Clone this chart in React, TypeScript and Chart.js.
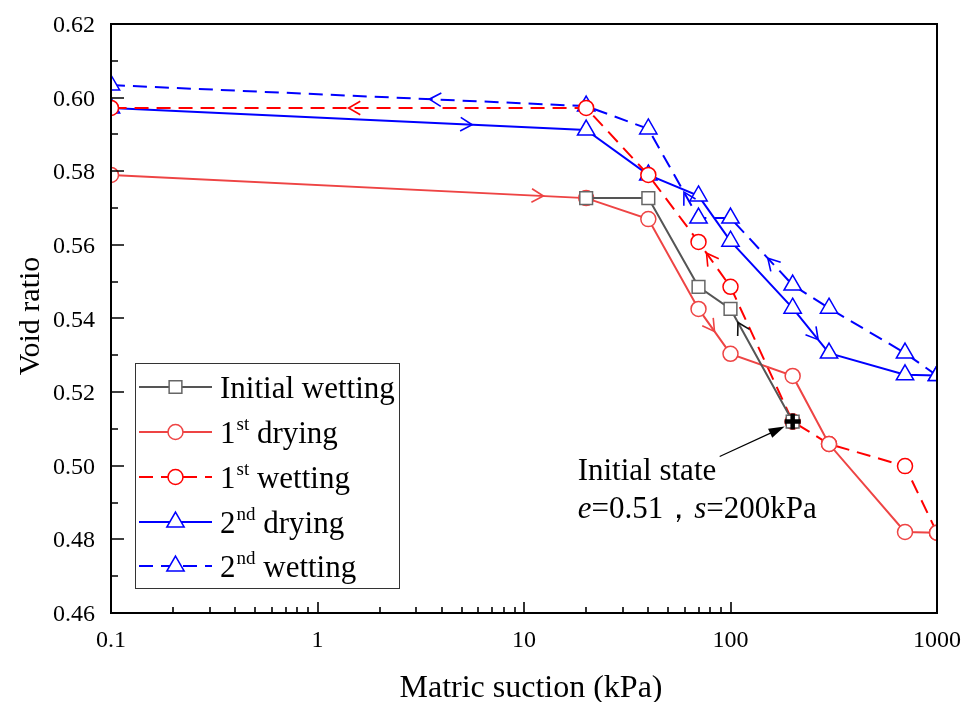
import React, { useEffect, useRef } from 'react';
import { Chart, registerables } from 'chart.js';

Chart.register(...registerables);

// ---------- data ----------
const initWetX = [200, 100, 70, 40, 20];
const initWetY = [0.512, 0.5426, 0.5486, 0.5727, 0.5727];

const dry1X = [0.1, 20, 40, 70, 100, 200, 300, 700, 1000];
const dry1Y = [0.579, 0.5727, 0.567, 0.5426, 0.5304, 0.5244, 0.5059, 0.482, 0.4818];

const wet1X = [1000, 700, 300, 200, 100, 70, 40, 20, 0.1];
const wet1Y = [0.4818, 0.4999, 0.5059, 0.512, 0.5486, 0.5608, 0.579, 0.5972, 0.5972];

const dry2X = [0.1, 20, 40, 70, 100, 200, 300, 700, 1000];
const dry2Y = [0.5972, 0.5912, 0.579, 0.5733, 0.561, 0.5428, 0.5306, 0.5247, 0.5245];

const wet2X = [1000, 700, 300, 200, 100, 70, 40, 20, 0.1];
const wet2Y = [0.5245, 0.5306, 0.5428, 0.5491, 0.5673, 0.5673, 0.5915, 0.5977, 0.6034];

// direction arrows: segment index and fraction along it
const arrowsInit = [{ seg: 0, t: 0.88 }];
const arrowsDry1 = [{ seg: 0, t: 0.91 }, { seg: 3, t: 0.5 }];
const arrowsWet1 = [{ seg: 4, t: 0.75 }, { seg: 7, t: 0.5 }];
const arrowsDry2 = [{ seg: 0, t: 0.76 }, { seg: 5, t: 0.7 }];
const arrowsWet2 = [{ seg: 3, t: 0.4 }, { seg: 5, t: 0.29 }, { seg: 7, t: 0.33 }];

const initialState = { x: 200, y: 0.512 };

const xMajorTicks = [0.1, 1, 10, 100, 1000];
const xTickLabels = ['0.1', '1', '10', '100', '1000'];
const xMinorTicks = [2, 3, 4, 5, 6, 7, 8, 9, 20, 30, 40, 50, 60, 70, 80, 90, 200, 300, 400, 500, 600, 700, 800, 900]
  .map(v => v / 10);
const yMajorTicks = [0.46, 0.48, 0.5, 0.52, 0.54, 0.56, 0.58, 0.6, 0.62];
const yTickLabels = ['0.46', '0.48', '0.50', '0.52', '0.54', '0.56', '0.58', '0.60', '0.62'];
const yMinorTicks = [0.47, 0.49, 0.51, 0.53, 0.55, 0.57, 0.59, 0.61];

const seriesBase = ['Initial wetting', '1', '1', '2', '2'];
const seriesSup = ['', 'st', 'st', 'nd', 'nd'];
const seriesRest = ['', ' drying', ' wetting', ' drying', ' wetting'];

const xTitle = 'Matric suction (kPa)';
const yTitle = 'Void ratio';

const SERIF = '"Liberation Serif", "Times New Roman", serif';

const GRAY = '#555555';
const RED1 = '#EE4444';
const RED2 = '#FF0000';
const BLUE = '#0000FF';

const zip = (xs: number[], ys: number[]) => xs.map((x, i) => ({ x, y: ys[i] }));

const styles = [
  { color: GRAY, pcolor: '#666666', dash: [] as number[], point: 'rect', r: 9 },
  { color: RED1, pcolor: RED1, dash: [] as number[], point: 'circle', r: 7.5 },
  { color: RED2, pcolor: RED2, dash: [14, 8], point: 'circle', r: 7.5 },
  { color: BLUE, pcolor: BLUE, dash: [] as number[], point: 'triangle', r: 10 },
  { color: BLUE, pcolor: BLUE, dash: [14, 8], point: 'triangle', r: 10 },
];

function drawMarker(ctx: CanvasRenderingContext2D, style: string, x: number, y: number, r: number) {
  ctx.beginPath();
  if (style === 'circle') {
    ctx.arc(x, y, r, 0, Math.PI * 2);
  } else if (style === 'rect') {
    const s = r * Math.SQRT1_2;
    ctx.rect(x - s, y - s, 2 * s, 2 * s);
  } else {
    for (let k = 0; k < 3; k++) {
      const a = (k * 2 * Math.PI) / 3;
      const px = x + Math.sin(a) * r;
      const py = y - Math.cos(a) * r;
      if (k === 0) ctx.moveTo(px, py); else ctx.lineTo(px, py);
    }
    ctx.closePath();
  }
  ctx.fillStyle = '#fff';
  ctx.fill();
  ctx.stroke();
}

const decorPlugin = {
  id: 'decor',
  afterDatasetsDraw(chart: any) {
    const ctx: CanvasRenderingContext2D = chart.ctx;
    const { left, right, top, bottom } = chart.chartArea;
    const xs = chart.scales.x;
    const ys = chart.scales.y;
    ctx.save();

    // direction chevrons
    chart.data.datasets.forEach((ds: any, i: number) => {
      const pts = chart.getDatasetMeta(i).data;
      (ds.arrows || []).forEach((a: any) => {
        const p0 = pts[a.seg];
        const p1 = pts[a.seg + 1];
        const x = p0.x + (p1.x - p0.x) * a.t;
        const y = p0.y + (p1.y - p0.y) * a.t;
        const ang = Math.atan2(p1.y - p0.y, p1.x - p0.x);
        const L = 13.5;
        const th = (30 * Math.PI) / 180;
        ctx.strokeStyle = ds.arrowColor || ds.borderColor;
        ctx.lineWidth = 1.6;
        ctx.setLineDash([]);
        ctx.beginPath();
        ctx.moveTo(x - L * Math.cos(ang - th), y - L * Math.sin(ang - th));
        ctx.lineTo(x, y);
        ctx.lineTo(x - L * Math.cos(ang + th), y - L * Math.sin(ang + th));
        ctx.stroke();
      });
    });

    // frame
    ctx.setLineDash([]);
    ctx.strokeStyle = '#000';
    ctx.lineWidth = 2;
    ctx.strokeRect(left, top, right - left, bottom - top);

    // ticks
    ctx.lineWidth = 1.6;
    ctx.beginPath();
    xMajorTicks.forEach(v => {
      const px = Math.round(xs.getPixelForValue(v));
      ctx.moveTo(px, bottom); ctx.lineTo(px, bottom - 11);
    });
    xMinorTicks.forEach(v => {
      const px = Math.round(xs.getPixelForValue(v));
      ctx.moveTo(px, bottom); ctx.lineTo(px, bottom - 6);
    });
    yMajorTicks.forEach(v => {
      const py = Math.round(ys.getPixelForValue(v));
      ctx.moveTo(left, py); ctx.lineTo(left + 13, py);
    });
    yMinorTicks.forEach(v => {
      const py = Math.round(ys.getPixelForValue(v));
      ctx.moveTo(left, py); ctx.lineTo(left + 7, py);
    });
    ctx.stroke();

    // tick labels
    ctx.fillStyle = '#000';
    ctx.font = `24px ${SERIF}`;
    ctx.textBaseline = 'alphabetic';
    ctx.textAlign = 'center';
    xMajorTicks.forEach((v, i) => {
      ctx.fillText(xTickLabels[i], xs.getPixelForValue(v), bottom + 34);
    });
    ctx.textAlign = 'right';
    yMajorTicks.forEach((v, i) => {
      ctx.fillText(yTickLabels[i], left - 16, ys.getPixelForValue(v) + 8);
    });

    // initial state marker and annotation
    const ipx = xs.getPixelForValue(initialState.x);
    const ipy = ys.getPixelForValue(initialState.y);
    ctx.strokeStyle = '#000';
    ctx.lineWidth = 4.5;
    ctx.beginPath();
    ctx.moveTo(ipx - 8, ipy); ctx.lineTo(ipx + 8, ipy);
    ctx.moveTo(ipx, ipy - 8); ctx.lineTo(ipx, ipy + 8);
    ctx.stroke();

    const tipX = ipx - 8, tipY = ipy + 5;
    const tailX = ipx - 73, tailY = ipy + 35;
    const ang = Math.atan2(tipY - tailY, tipX - tailX);
    ctx.lineWidth = 1.2;
    ctx.beginPath();
    ctx.moveTo(tailX, tailY);
    ctx.lineTo(tipX - 12 * Math.cos(ang), tipY - 12 * Math.sin(ang));
    ctx.stroke();
    ctx.fillStyle = '#000';
    ctx.beginPath();
    ctx.moveTo(tipX, tipY);
    ctx.lineTo(tipX - 16 * Math.cos(ang) + 5 * Math.sin(ang), tipY - 16 * Math.sin(ang) - 5 * Math.cos(ang));
    ctx.lineTo(tipX - 16 * Math.cos(ang) - 5 * Math.sin(ang), tipY - 16 * Math.sin(ang) + 5 * Math.cos(ang));
    ctx.closePath();
    ctx.fill();

    ctx.fillStyle = '#000';
    ctx.textBaseline = 'alphabetic';
    ctx.textAlign = 'left';
    const tx = ipx - 215;
    ctx.font = `31px ${SERIF}`;
    ctx.fillText('Initial state', tx, ipy + 58);
    const parts = [
      { t: 'e', it: true },
      { t: '=0.51，', it: false },
      { t: 's', it: true },
      { t: '=200kPa', it: false },
    ];
    let cx = tx;
    parts.forEach(p => {
      ctx.font = `${p.it ? 'italic ' : ''}31px ${SERIF}`;
      ctx.fillText(p.t, cx, ipy + 96);
      cx += ctx.measureText(p.t).width;
    });

    // legend
    const lx = 135, ly = 363, lw = 264, lh = 225;
    ctx.fillStyle = '#fff';
    ctx.fillRect(lx, ly, lw, lh);
    ctx.strokeStyle = '#333';
    ctx.lineWidth = 1;
    ctx.strokeRect(lx + 0.5, ly + 0.5, lw, lh);
    const rowY = [387, 432, 477, 522, 566];
    styles.forEach((s, i) => {
      const y = rowY[i];
      ctx.strokeStyle = s.color;
      ctx.lineWidth = 2;
      ctx.setLineDash(s.dash);
      ctx.beginPath();
      ctx.moveTo(139, y); ctx.lineTo(212, y);
      ctx.stroke();
      ctx.setLineDash([]);
      ctx.strokeStyle = s.pcolor;
      ctx.lineWidth = 1.5;
      drawMarker(ctx, s.point, 175.5, y, s.r);
      ctx.fillStyle = '#000';
      ctx.font = `31px ${SERIF}`;
      let x = 220;
      ctx.fillText(seriesBase[i], x, y + 11);
      x += ctx.measureText(seriesBase[i]).width;
      if (seriesSup[i]) {
        ctx.font = `19px ${SERIF}`;
        ctx.fillText(seriesSup[i], x + 1, y - 2);
        x += ctx.measureText(seriesSup[i]).width + 1;
        ctx.font = `31px ${SERIF}`;
        ctx.fillText(seriesRest[i], x, y + 11);
      }
    });

    // axis titles
    ctx.fillStyle = '#000';
    ctx.textAlign = 'center';
    ctx.textBaseline = 'alphabetic';
    ctx.font = `32px ${SERIF}`;
    ctx.fillText(xTitle, 531, 697);
    ctx.font = `30px ${SERIF}`;
    ctx.save();
    ctx.translate(39, 316);
    ctx.rotate(-Math.PI / 2);
    ctx.fillText(yTitle, 0, 0);
    ctx.restore();

    ctx.restore();
  },
};

export default function App() {
  const ref = useRef<HTMLCanvasElement | null>(null);

  useEffect(() => {
    if (!ref.current) return;
    const arrowsList = [arrowsInit, arrowsDry1, arrowsWet1, arrowsDry2, arrowsWet2];
    const dataList = [
      zip(initWetX, initWetY),
      zip(dry1X, dry1Y),
      zip(wet1X, wet1Y),
      zip(dry2X, dry2Y),
      zip(wet2X, wet2Y),
    ];
    const datasets: any[] = dataList.map((d, i) => ({
      label: (seriesBase[i] + seriesSup[i] + seriesRest[i]),
      data: d,
      borderColor: styles[i].color,
      borderWidth: 2,
      borderDash: styles[i].dash,
      pointStyle: styles[i].point,
      pointRadius: styles[i].r,
      pointBorderColor: styles[i].pcolor,
      pointBackgroundColor: '#fff',
      pointBorderWidth: 1.5,
      tension: 0,
      fill: false,
      clip: 0,
      arrows: arrowsList[i],
      arrowColor: i === 0 ? '#111' : undefined,
    }));

    const chart = new Chart(ref.current, {
      type: 'line',
      data: { datasets },
      options: {
        animation: false,
        responsive: false,
        maintainAspectRatio: false,
        layout: { padding: { top: 24, right: 26, left: 0, bottom: 0 } },
        plugins: { legend: { display: false }, tooltip: { enabled: false } },
        scales: {
          x: {
            type: 'logarithmic',
            min: 0.1,
            max: 1000,
            grid: { display: false, drawTicks: false },
            border: { display: false },
            afterFit: (s: any) => { s.height = 89; s.paddingLeft = 0; s.paddingRight = 0; },
            ticks: { display: false },
          },
          y: {
            type: 'linear',
            min: 0.46,
            max: 0.62,
            grid: { display: false, drawTicks: false },
            border: { display: false },
            afterFit: (s: any) => { s.width = 111; s.paddingTop = 0; s.paddingBottom = 0; },
            ticks: { display: false },
          },
        },
      },
      plugins: [decorPlugin],
    } as any);
    return () => chart.destroy();
  }, []);

  return (
    <div style={{ position: 'fixed', left: 0, top: 0, width: 963, height: 702, background: '#fff' }}>
      <canvas ref={ref} width={963} height={702} style={{ width: 963, height: 702, display: 'block' }} />
    </div>
  );
}
